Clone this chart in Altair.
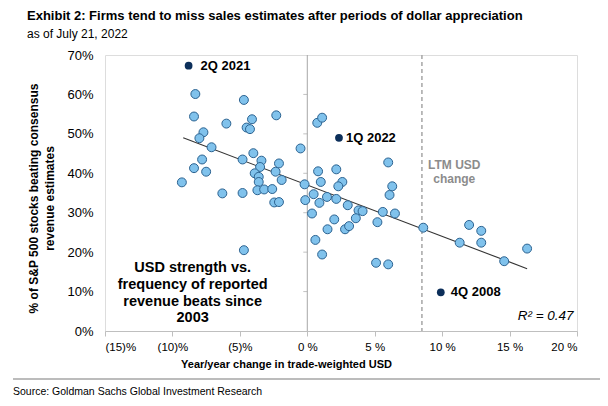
import altair as alt
import pandas as pd

FONT = "Liberation Sans"

# Regular quarterly observations: x = y/y change in trade-weighted USD (%), y = % beating revenue estimates
pts_x = [-8.3, -4.7, -8.4, -6.0, -4.1, -4.5, -4.25, -2.3, -7.7, -8.0, -7.1, -4.0, -0.5,
         -4.8, -7.8, -8.4, -7.5, -9.3, -6.3, -4.8, -3.4, -3.5, -3.9, -3.6, -3.6, -3.7,
         -3.2, -2.6, -2.1, -2.35, -1.9, -2.45, -2.1, -0.2, -0.15, -4.7, 0.74, 1.1, 0.8,
         2.15, 1.0, 2.6, 2.3, 0.47, 0.9, 1.46, 2.15, 0.35, 3.0, 3.8, 4.1, 3.6, 2.0, 1.5,
         2.8, 3.1, 0.6, 1.1, 6.0, 6.3, 6.1, 5.6, 6.5, 5.2, 5.1, 6.0, 8.6, 12.0, 12.9,
         11.3, 12.9, 16.3, 14.6]
pts_y = [60.1, 58.6, 54.4, 52.6, 53.7, 51.6, 51.2, 54.7, 50.4, 48.9, 46.6, 45.1, 46.3,
         43.5, 43.5, 41.3, 40.4, 37.7, 34.9, 35.0, 43.2, 41.6, 40.0, 39.1, 37.8, 35.7,
         35.9, 36.0, 42.5, 40.4, 38.3, 32.6, 32.7, 37.2, 33.2, 20.5, 52.8, 54.1, 40.5,
         41.0, 37.8, 37.8, 36.7, 34.7, 32.5, 34.0, 33.5, 29.8, 31.9, 30.6, 30.4, 28.6,
         28.3, 25.8, 25.8, 26.6, 23.1, 19.4, 42.75, 36.7, 34.5, 30.2, 29.8, 27.6, 17.3,
         16.9, 26.2, 26.9, 25.4, 22.4, 22.4, 20.9, 17.7]

# Highlighted quarters
hl_labels = ["2Q 2021", "1Q 2022", "4Q 2008"]
hl_x = [-8.8, 2.35, 9.9]
hl_y = [67.3, 49.0, 9.8]
hl_dx = [12, 7, 10]

# Fitted trend line end points
trend_x = [-9.2, 16.3]
trend_y = [49.0, 15.8]

ltm_x = [8.5]
x_ticks = [-15, -10, -5, 0, 5, 10, 15, 20]
y_ticks = [0, 10, 20, 30, 40, 50, 60, 70]
zero_tick_y = [10, 20, 30, 40, 50, 60]

pts = pd.DataFrame({"x": pts_x, "y": pts_y})
hl = pd.DataFrame({"label": hl_labels, "x": hl_x, "y": hl_y})
trend = pd.DataFrame({"x": trend_x, "y": trend_y})

xs = alt.Scale(domain=[-15, 20], nice=False, zero=False)
ys = alt.Scale(domain=[0, 70], nice=False)

X = alt.X("x:Q", scale=xs, axis=alt.Axis(
    values=x_ticks,
    labelExpr="datum.value < 0 ? '(' + abs(datum.value) + ')%' : datum.value + ' %'",
    title="Year/year change in trade-weighted USD",
    titleFontSize=11, titleFontWeight="bold", titleFont=FONT, titleColor="#000",
    titleX=181, titleY=33, titleAlign="center", titleBaseline="middle",
    labelFontSize=11.5, labelFont=FONT, labelColor="#000", labelPadding=5,
    domainColor="#BFBFBF", tickColor="#BFBFBF", tickSize=5, grid=False))
Y = alt.Y("y:Q", scale=ys, axis=alt.Axis(
    values=y_ticks, labelExpr="datum.value + '%'",
    title=["% of S&P 500 stocks beating consensus", "revenue estimates"],
    titleFontSize=12, titleFontWeight="bold", titleFont=FONT, titleColor="#000",
    titleX=-72, titleY=143, titleAlign="center", titleBaseline="middle", titleLineHeight=16,
    labelFontSize=13, labelFont=FONT, labelColor="#000", labelPadding=12,
    ticks=False, domain=False, grid=False, labelOverlap=False))

zero_line = alt.Chart(pd.DataFrame({"x": [0]})).mark_rule(color="#A6A6A6", strokeWidth=1).encode(x=X)
zero_ticks = alt.Chart(pd.DataFrame({"x": [0] * len(zero_tick_y), "y": zero_tick_y})).mark_tick(
    orient="horizontal", size=4, xOffset=-2, color="#A6A6A6", thickness=1).encode(x=X, y=Y)
ltm_line = alt.Chart(pd.DataFrame({"x": ltm_x})).mark_rule(
    color="#A6A6A6", strokeWidth=1.5, strokeDash=[4, 3]).encode(x=X)
trend_line = alt.Chart(trend).mark_line(color="#333333", strokeWidth=1.1).encode(x=X, y=Y)
dots = alt.Chart(pts).mark_circle(size=80, opacity=1, color="#80C2EC", stroke="#2C6391",
                                  strokeWidth=1).encode(x=X, y=Y)
hl_dots = alt.Chart(hl).mark_circle(size=60, opacity=1, color="#0C2F5A").encode(x=X, y=Y)
hl_texts = [
    alt.Chart(hl).transform_filter(alt.datum.label == lab).mark_text(
        align="left", baseline="middle", font=FONT, fontSize=13, fontWeight="bold",
        color="#000", dx=d).encode(x=X, y=Y, text="label:N")
    for lab, d in zip(hl_labels, hl_dx)
]

ltm_text = alt.Chart(pd.DataFrame({"x": [10.9], "y": [42.2], "t": [["LTM USD", "change"]]})).mark_text(
    align="center", baseline="middle", font=FONT, fontSize=12, fontWeight="bold",
    color="#8C8C8C", lineHeight=14).encode(x=X, y=Y, text="t")
box_text = alt.Chart(pd.DataFrame({"x": [-8.5], "y": [15.9],
                                   "t": [["USD strength vs.", "frequency of reported",
                                          "revenue beats since", "2003"]]})).mark_text(
    align="center", baseline="middle", font=FONT, fontSize=14.5, fontWeight="bold",
    color="#000", lineHeight=16.7).encode(x=X, y=Y, text="t")
r2_text = alt.Chart(pd.DataFrame({"x": [19.75], "y": [3.8], "t": ["R² = 0.47"]})).mark_text(
    align="right", baseline="middle", font=FONT, fontSize=13.5, fontStyle="italic",
    color="#000").encode(x=X, y=Y, text="t")

sep = alt.Chart(pd.DataFrame({"a": [0]})).mark_rule(color="#A6A6A6", strokeWidth=1.5).encode(
    x=alt.value(-92), x2=alt.value(498), y=alt.value(324))
source = alt.Chart(pd.DataFrame({"t": ["Source: Goldman Sachs Global Investment Research"]})).mark_text(
    align="left", baseline="middle", font=FONT, fontSize=10.5, color="#000").encode(
    x=alt.value(-92), y=alt.value(337), text="t")

chart = alt.layer(zero_line, zero_ticks, ltm_line, trend_line, dots, hl_dots, *hl_texts,
                  ltm_text, box_text, r2_text, sep, source).properties(
    width=472, height=276,
    autosize=alt.AutoSizeParams(type="none"),
    padding={"left": 97, "top": 47, "right": 23, "bottom": 67},
    title=alt.TitleParams(
        "Exhibit 2: Firms tend to miss sales estimates after periods of dollar appreciation",
        subtitle="as of July 21, 2022", anchor="start", frame="group", dx=-78, offset=9,
        font=FONT, fontSize=13, fontWeight="bold", color="#000",
        subtitleFont=FONT, subtitleFontSize=12, subtitleColor="#000", subtitlePadding=6),
).configure_view(stroke="#BFBFBF", strokeWidth=1).configure(background="white")

chart.save("out.html", embed_options={"renderer": "svg", "actions": False})
